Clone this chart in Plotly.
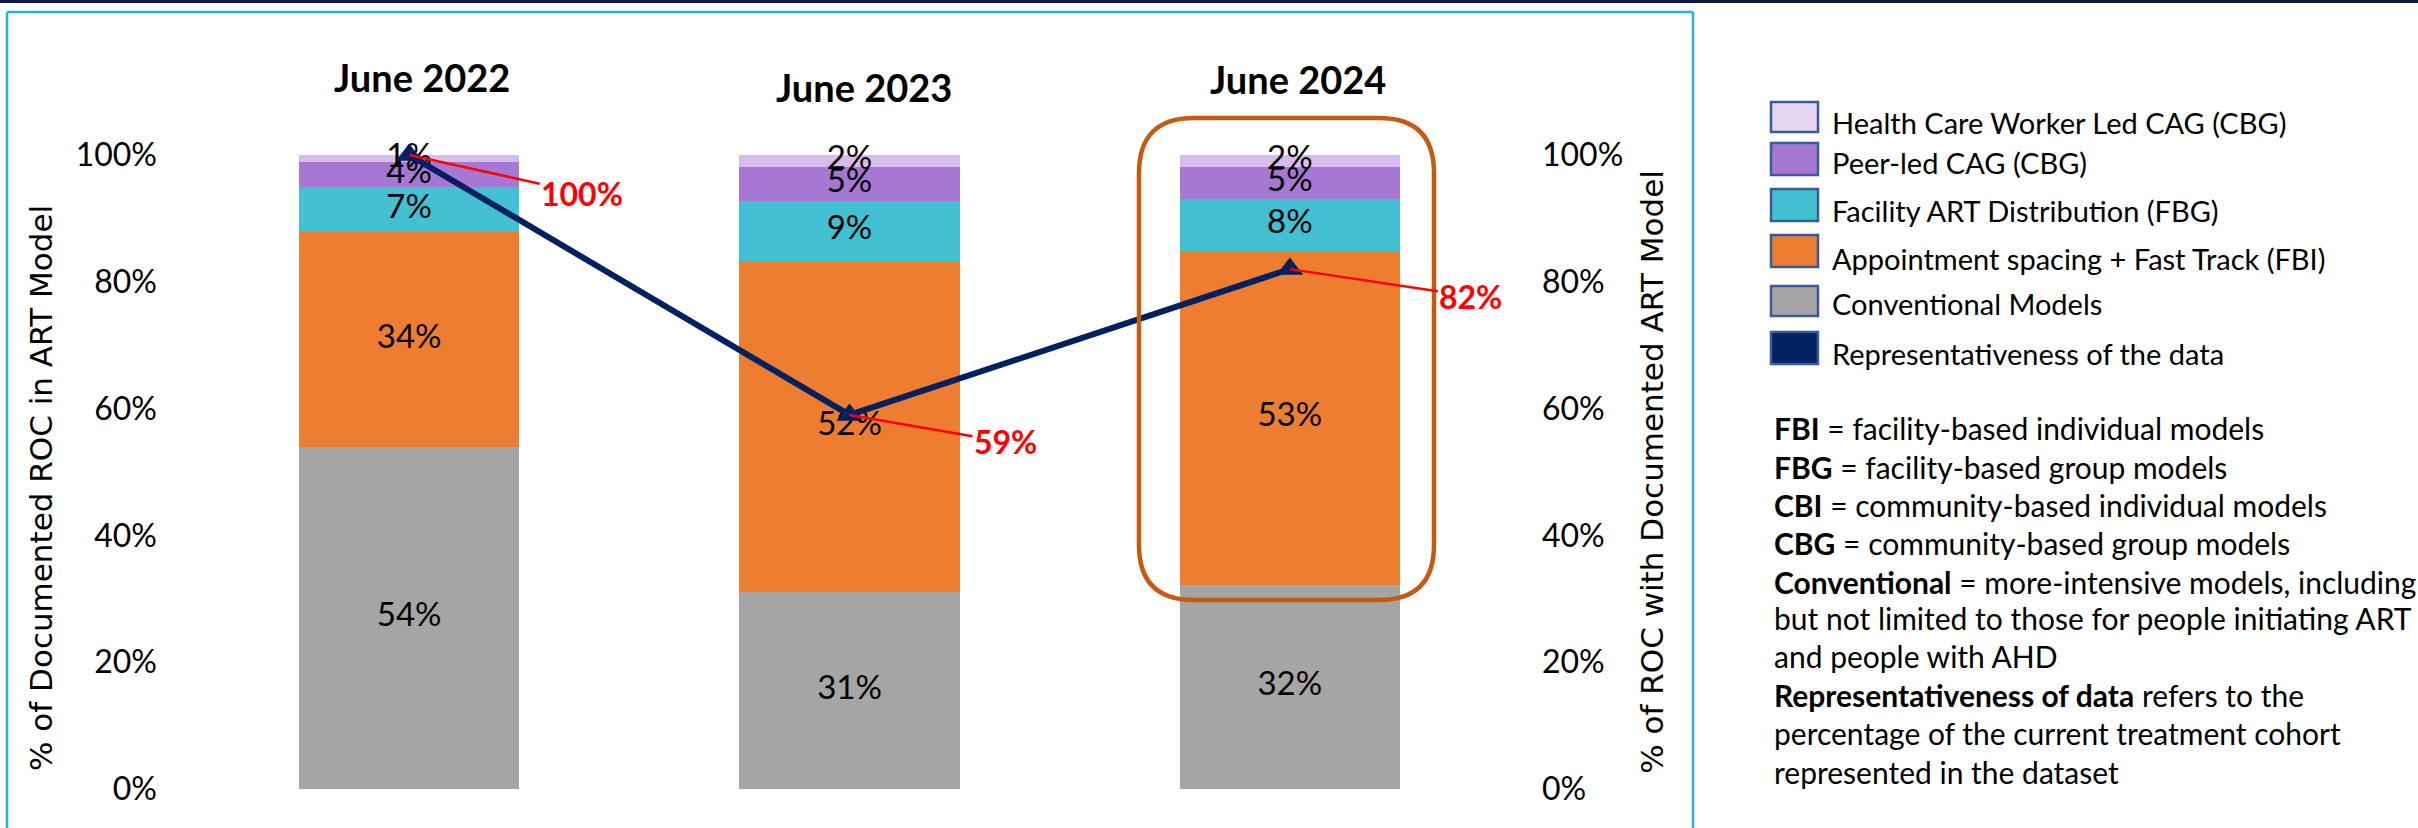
import plotly.graph_objects as go

# ---------------- data ----------------
categories = ["June 2022", "June 2023", "June 2024"]
series_names = [
    "Conventional Models",
    "Appointment spacing + Fast Track (FBI)",
    "Facility ART Distribution (FBG)",
    "Peer-led CAG (CBG)",
    "Health Care Worker Led CAG (CBG)",
]
conventional = [53.9, 31.1, 32.2]
fbi = [34.0, 52.2, 52.7]
fbg = [7.0, 9.4, 8.2]
peer_cag = [4.0, 5.4, 5.0]
hcw_cag = [1.1, 1.9, 1.9]
representativeness = [100, 59, 82]
line_name = "Representativeness of the data"
y_ticks = [0, 20, 40, 60, 80, 100]
y_tick_labels = ["0%", "20%", "40%", "60%", "80%", "100%"]
left_title = "% of Documented ROC in ART Model"
right_title = "% of ROC with Documented ART Model"

notes = [
    "<b>FBI</b> = facility-based individual models",
    "<b>FBG</b> = facility-based group models",
    "<b>CBI</b> = community-based individual models",
    "<b>CBG</b> = community-based group models",
    "<b>Conventional</b> = more-intensive models, including",
    "but not limited to those for people initiating ART",
    "and people with AHD",
    "<b>Representativeness of data</b> refers to the",
    "percentage of the current treatment cohort",
    "represented in the dataset",
]

# ---------------- style ----------------
W, H = 2418, 828
PL, PR, PT, PB = 189, 1510, 155, 789  # plot area in pixels
bar_colors = ["#A5A5A5", "#ED7D31", "#42C0D2", "#A678D4", "#D6BCEA"]
legend_colors = ["#A5A5A5", "#ED7D31", "#42C0D2", "#A678D4", "#E7D6F2"]
navy = "#002060"
FONT = "Lato"
TITLE_FONT = "URW Gothic, DejaVu Sans, sans-serif"


def px(x):
    return (x - PL) / (PR - PL)


def py(y):
    return (PB - y) / (PB - PT)


series_values = [conventional, fbi, fbg, peer_cag, hcw_cag]

fig = go.Figure()
for name, vals, col in zip(series_names, series_values, bar_colors):
    fig.add_trace(go.Bar(
        x=categories, y=vals, name=name, marker=dict(color=col, line=dict(width=0)),
        hoverinfo="name+y", showlegend=False,
    ))

# segment labels at the middle of each stacked segment
lab_x, lab_y, lab_t = [], [], []
for i, c in enumerate(categories):
    base = 0.0
    for vals in series_values:
        v = vals[i]
        lab_x.append(c)
        lab_y.append(base + v / 2)
        lab_t.append(f"{round(v)}%")
        base += v
fig.add_trace(go.Scatter(
    x=lab_x, y=lab_y, text=lab_t, mode="text", textposition="middle center",
    textfont=dict(family=FONT, size=33, color="black"),
    hoverinfo="skip", showlegend=False, cliponaxis=False,
))

fig.add_trace(go.Scatter(
    x=categories, y=representativeness, name=line_name, yaxis="y2",
    mode="lines+markers", line=dict(color=navy, width=6),
    marker=dict(symbol="triangle-up", size=23, color=navy),
    cliponaxis=False, showlegend=False,
))

# red value labels for the line
label_offsets = [(173, 38), (156, 27), (181, 27)]
for c, v, (ax, ay) in zip(categories, representativeness, label_offsets):
    fig.add_annotation(
        x=c, y=v, xref="x", yref="y2", text=f"<b>{v}%</b>",
        showarrow=True, arrowhead=0, arrowwidth=2.5, arrowcolor="#FF0000",
        ax=ax, ay=ay, font=dict(family=FONT, size=32, color="#FF0000"),
        standoff=0,
    )

# category headers above bars
header_y = [77, 87, 79]
header_dx = [13, 14, 8]
for c, yy, dx in zip(categories, header_y, header_dx):
    fig.add_annotation(
        x=c, y=py(yy), xref="x", yref="paper", text=f"<b>{c}</b>",
        showarrow=False, font=dict(family=FONT, size=38, color="black"),
        xanchor="center", yanchor="middle", xshift=dx,
    )

# left axis title (placed as rotated text)
fig.add_annotation(x=px(41), y=py(488), xref="paper", yref="paper", text=left_title,
                   textangle=-90, showarrow=False, xanchor="center", yanchor="middle",
                   font=dict(family=TITLE_FONT, size=31, color="black"))

# rounded highlight box around June 2024
bx0, bx1, by0, by1, r = 1139, 1434, 118, 600, 55
pts = [
    ("M", [(bx0 + r, by0)]), ("L", [(bx1 - r, by0)]), ("Q", [(bx1, by0), (bx1, by0 + r)]),
    ("L", [(bx1, by1 - r)]), ("Q", [(bx1, by1), (bx1 - r, by1)]),
    ("L", [(bx0 + r, by1)]), ("Q", [(bx0, by1), (bx0, by1 - r)]),
    ("L", [(bx0, by0 + r)]), ("Q", [(bx0, by0), (bx0 + r, by0)]),
]
path = ""
for cmd, ps in pts:
    path += cmd + " " + " ".join(f"{px(a):.5f},{py(b):.5f}" for a, b in ps) + " "
path += "Z"
fig.add_shape(type="path", path=path, xref="paper", yref="paper",
              line=dict(color="#C55A11", width=4.5), layer="above")

# frame (left, top, right edges) and dark top rule
frame = dict(color="#1FB2EC", width=2.5)
fig.add_shape(type="line", xref="paper", yref="paper", x0=px(7), x1=px(7),
              y0=py(828), y1=py(12), line=frame)
fig.add_shape(type="line", xref="paper", yref="paper", x0=px(7), x1=px(1693),
              y0=py(12), y1=py(12), line=frame)
fig.add_shape(type="line", xref="paper", yref="paper", x0=px(1693), x1=px(1693),
              y0=py(828), y1=py(12), line=frame)
fig.add_shape(type="rect", xref="paper", yref="paper", x0=px(0), x1=px(W),
              y0=py(3), y1=py(0), fillcolor="#0A1744", line=dict(width=0),
              layer="above")

# manual legend
legend_items = list(zip(series_names[::-1], legend_colors[::-1])) + [(line_name, navy)]
sw_y = [(102, 132), (143, 175), (189, 221), (235, 267), (286, 316), (332, 364)]
txt_y = [122, 162, 210, 258, 303, 353]
for (name, col), (y0, y1), ty in zip(legend_items, sw_y, txt_y):
    fig.add_shape(type="rect", xref="paper", yref="paper",
                  x0=px(1771), x1=px(1818), y0=py(y1), y1=py(y0),
                  fillcolor=col, line=dict(color="#3A5B9B", width=2.5))
    fig.add_annotation(x=px(1830), y=py(ty), xref="paper", yref="paper",
                       text=name, showarrow=False, xanchor="left", yanchor="middle",
                       font=dict(family=FONT, size=29, color="black"))

# notes
note_y = [428, 467, 505, 543, 582, 618, 656, 695, 733, 772]
for t, yy in zip(notes, note_y):
    fig.add_annotation(x=px(1772), y=py(yy), xref="paper", yref="paper",
                       text=t, showarrow=False, xanchor="left", yanchor="middle",
                       font=dict(family=FONT, size=30, color="black"))

axis_common = dict(
    range=[0, 100], tickvals=y_ticks, ticktext=y_tick_labels, showgrid=False,
    zeroline=False, showline=False, ticks="",
    tickfont=dict(family=FONT, size=32, color="black"),
    ticklabelstandoff=31,
)
fig.update_layout(
    width=W, height=H,
    margin=dict(l=PL, r=W - PR, t=PT, b=H - PB, autoexpand=False),
    paper_bgcolor="white", plot_bgcolor="white",
    barmode="stack", bargap=0.5,
    xaxis=dict(range=[-0.5, 2.5], showticklabels=False, showgrid=False,
               zeroline=False, showline=False, ticks=""),
    yaxis=dict(**axis_common),
    yaxis2=dict(**axis_common, overlaying="y", side="right",
                title=dict(text=right_title,
                           font=dict(family=TITLE_FONT, size=31, color="black"), standoff=18)),
    showlegend=False,
)

post = (
    "document.body.style.margin='0';document.body.style.overflow='hidden';"
    "var rule=document.createElement('div');"
    "rule.style.cssText='position:fixed;top:0;left:0;width:100%;height:3px;"
    "background:#0A1744;z-index:10000;pointer-events:none';"
    "document.body.appendChild(rule);"
)
fig.write_html("out.html", config={"displayModeBar": False}, post_script=post)
